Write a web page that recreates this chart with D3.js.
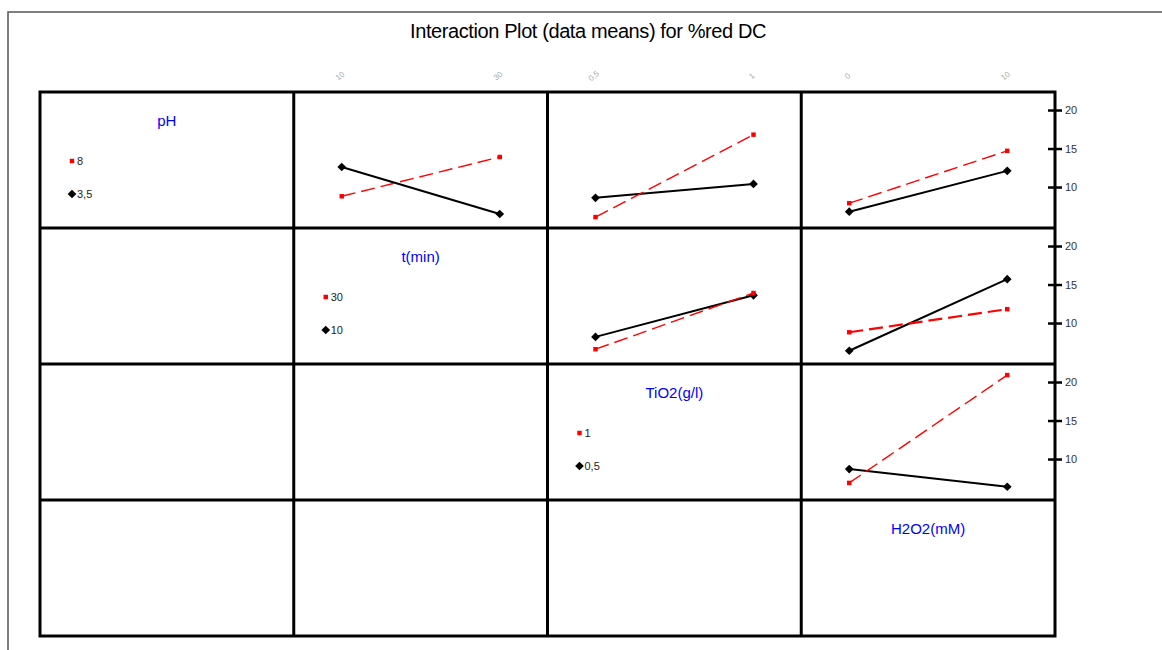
<!DOCTYPE html>
<html>
<head>
<meta charset="utf-8">
<script src="https://cdn.jsdelivr.net/npm/d3@7"></script>
<style>
  body { margin: 0; background: #fff; }
  text { font-family: "Liberation Sans", Arial, sans-serif; }
</style>
</head>
<body>
<figure id="interaction" style="margin:0"></figure>
<script>
// factors on the diagonal and their levels (low, high)
const factors = ["pH", "t(min)", "TiO2(g/l)", "H2O2(mM)"];
const levels = [["3,5", "8"], ["10", "30"], ["0,5", "1"], ["0", "10"]];
const yTicks = [10, 15, 20];

// means: [trace level][x level]  (trace factor = row, x factor = column)
const meansPHxT = [[12.6, 6.5], [8.8, 13.9]];
const meansPHxTiO2 = [[8.6, 10.4], [6.1, 16.8]];
const meansPHxH2O2 = [[6.8, 12.1], [7.9, 14.7]];
const meansTxTiO2 = [[8.2, 13.6], [6.6, 13.9]];
const meansTxH2O2 = [[6.4, 15.7], [8.8, 11.8]];
const meansTiO2xH2O2 = [[8.7, 6.4], [6.9, 20.9]];

const panels = [
  {row: 0, col: 1, means: meansPHxT},
  {row: 0, col: 2, means: meansPHxTiO2},
  {row: 0, col: 3, means: meansPHxH2O2},
  {row: 1, col: 2, means: meansTxTiO2},
  {row: 1, col: 3, means: meansTxH2O2, redWidth: 2.2},
  {row: 2, col: 3, means: meansTiO2xH2O2}
];

const width = 1162, height = 650;
const gridLeft = 40, gridTop = 92, colW = 253.75, rowH = 136;
const n = factors.length;

const svg = d3.select("figure#interaction")
  .append("svg")
  .attr("width", width)
  .attr("height", height);

// page frame
svg.append("path")
  .attr("d", "M8,650 L8,12 L1162,12")
  .attr("fill", "none")
  .attr("stroke", "#555")
  .attr("stroke-width", 1.5);

// title
svg.append("text")
  .attr("x", 588)
  .attr("y", 38)
  .attr("text-anchor", "middle")
  .style("font-size", "20px")
  .style("letter-spacing", "-0.4px")
  .text("Interaction Plot (data means) for %red DC");

const xScales = levels.map((lv, i) => d3.scalePoint()
  .domain(lv)
  .range([gridLeft + i * colW + 48, gridLeft + i * colW + 206]));

const yScales = d3.range(n).map(r => d3.scaleLinear()
  .domain([4.68, 22.34])
  .range([gridTop + (r + 1) * rowH, gridTop + r * rowH]));

// low level: black diamond, solid; high level: red square, dashed
const styles = [
  {color: "#000", dash: null, width: 2, symbol: d3.symbolSquare, size: 38, rot: 45},
  {color: "#f00", dash: "14,6", width: 1.4, symbol: d3.symbolSquare, size: 20, rot: 0}
];

// top tick labels (x levels) for columns 1..3
for (let c = 1; c < n; c++) {
  svg.append("g").selectAll("text")
    .data(levels[c])
    .enter()
    .append("text")
    .attr("transform", d => "translate(" + xScales[c](d) + ",78) rotate(-40)")
    .attr("text-anchor", "middle")
    .style("font-size", "8px")
    .style("fill", "#aaa")
    .text(d => d);
}

// interaction lines
panels.forEach(p => {
  const x = xScales[p.col], y = yScales[p.row];
  const g = svg.append("g");
  p.means.forEach((vals, k) => {
    const st = styles[k];
    const pts = levels[p.col].map((lv, i) => [x(lv), y(vals[i])]);
    g.append("path")
      .attr("d", d3.line()(pts))
      .attr("fill", "none")
      .attr("stroke", st.color)
      .attr("stroke-width", k === 1 && p.redWidth ? p.redWidth : st.width)
      .attr("stroke-dasharray", st.dash);
    g.selectAll(null)
      .data(pts)
      .enter()
      .append("path")
      .attr("transform", d => "translate(" + d[0] + "," + d[1] + ") rotate(" + st.rot + ")")
      .attr("d", d3.symbol().type(st.symbol).size(st.size))
      .attr("fill", st.color);
  });
});

// diagonal: factor name and legend
for (let i = 0; i < n; i++) {
  const x0 = gridLeft + i * colW, y0 = gridTop + i * rowH;
  svg.append("text")
    .attr("x", x0 + colW / 2)
    .attr("y", y0 + 34)
    .attr("text-anchor", "middle")
    .style("font-size", "15px")
    .style("fill", "#0000ff")
    .text(factors[i]);
  if (i === n - 1) continue;
  const leg = [{lv: levels[i][1], st: styles[1], dy: 69}, {lv: levels[i][0], st: styles[0], dy: 102}];
  leg.forEach(e => {
    svg.append("path")
      .attr("transform", "translate(" + (x0 + 32) + "," + (y0 + e.dy) + ") rotate(" + e.st.rot + ")")
      .attr("d", d3.symbol().type(e.st.symbol).size(e.st.size))
      .attr("fill", e.st.color);
    svg.append("text")
      .attr("x", x0 + 37)
      .attr("y", y0 + e.dy + 4)
      .style("font-size", "11px")
      .style("fill", "#222")
      .text(e.lv);
  });
}

// right axes for rows 0..2
const axisX = gridLeft + n * colW;
for (let r = 0; r < n - 1; r++) {
  const g = svg.append("g").attr("transform", "translate(" + (axisX + 7) + ",0)")
    .call(d3.axisRight(yScales[r]).tickValues(yTicks).tickSize(14).tickSizeOuter(0));
  g.select(".domain").remove();
  g.selectAll(".tick line").attr("x1", -14).attr("x2", 0).attr("stroke-width", 2.5).attr("stroke", "#000");
  g.selectAll(".tick text").attr("x", 3).style("font-size", "11px").style("fill", "#333")
    .style("font-family", "Liberation Sans, Arial, sans-serif");
}

// grid
const grid = svg.append("g").attr("stroke", "#000").attr("stroke-width", 3).attr("fill", "none");
grid.append("rect")
  .attr("x", gridLeft).attr("y", gridTop)
  .attr("width", n * colW).attr("height", n * rowH);
for (let i = 1; i < n; i++) {
  grid.append("line")
    .attr("x1", gridLeft + i * colW).attr("x2", gridLeft + i * colW)
    .attr("y1", gridTop).attr("y2", gridTop + n * rowH);
  grid.append("line")
    .attr("x1", gridLeft).attr("x2", gridLeft + n * colW)
    .attr("y1", gridTop + i * rowH).attr("y2", gridTop + i * rowH);
}
</script>
</body>
</html>
